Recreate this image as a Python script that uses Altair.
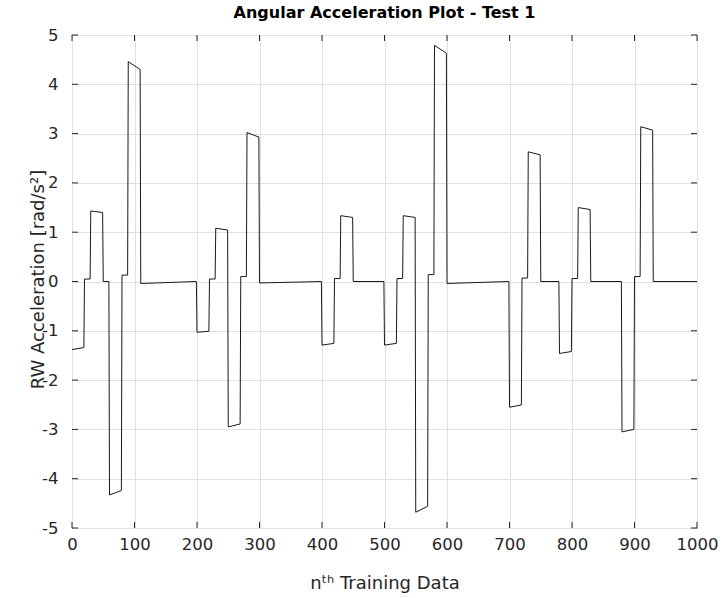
import altair as alt
import pandas as pd

# Breakpoints of the trace (sample index, rad/s^2)
sample_idx = [0, 19, 20, 29, 30, 49, 50, 59, 60, 79, 80, 89, 90, 109, 110, 199,
              200, 219, 220, 229, 230, 249, 250, 269, 270, 279, 280, 299, 300, 399,
              400, 419, 420, 429, 430, 449, 450, 499,
              500, 519, 520, 529, 530, 549, 550, 569, 570, 579, 580, 599, 600, 699,
              700, 719, 720, 729, 730, 749, 750, 779, 780, 799, 800, 809, 810, 829, 830, 879,
              880, 899, 900, 909, 910, 929, 930, 1000]
accel = [-1.38, -1.34, 0.05, 0.05, 1.43, 1.40, 0.0, 0.0, -4.33, -4.24, 0.13, 0.13, 4.46, 4.30, -0.04, 0.0,
         -1.03, -1.01, 0.05, 0.05, 1.08, 1.045, -2.95, -2.89, 0.10, 0.10, 3.02, 2.93, -0.03, 0.0,
         -1.29, -1.255, 0.06, 0.06, 1.335, 1.30, 0.0, 0.0,
         -1.29, -1.255, 0.06, 0.06, 1.335, 1.30, -4.68, -4.56, 0.14, 0.14, 4.79, 4.63, -0.04, 0.0,
         -2.55, -2.505, 0.07, 0.07, 2.63, 2.57, 0.0, 0.0, -1.46, -1.42, 0.06, 0.06, 1.50, 1.46, 0.0, 0.0,
         -3.05, -3.00, 0.10, 0.10, 3.14, 3.07, 0.0, 0.0]

x_ticks = [0, 100, 200, 300, 400, 500, 600, 700, 800, 900, 1000]
y_ticks = [-5, -4, -3, -2, -1, 0, 1, 2, 3, 4, 5]

W, H = 625, 493
FONT = "DejaVu Sans"
AX = "#262626"
TICK = 6

df = pd.DataFrame({"n": sample_idx, "a": accel})
xdf = pd.DataFrame({"n": x_ticks})
ydf = pd.DataFrame({"a": y_ticks})

xscale = alt.Scale(domain=[0, 1000], nice=False, zero=False)
yscale = alt.Scale(domain=[-5, 5], nice=False, zero=False)

x_axis = alt.Axis(values=x_ticks, title="nᵗʰ Training Data",
                  labelExpr="datum.value + ''", labelFlush=False,
                  titleX=W / 2, titleY=60, titleBaseline="alphabetic",
                  titleAnchor="middle", titleAlign="center")
y_axis = alt.Axis(values=y_ticks, title="RW Acceleration [rad/s²]",
                  labelExpr="datum.value + ''", labelFlush=False,
                  titleX=-29, titleY=244, titleAngle=-90,
                  titleBaseline="alphabetic", titleAlign="center")

X = alt.X("n:Q", scale=xscale, axis=x_axis)
Y = alt.Y("a:Q", scale=yscale, axis=y_axis)

line = alt.Chart(df).mark_line(color="#1a1a1a", strokeWidth=1).encode(x=X, y=Y)

tick_bottom = alt.Chart(xdf).mark_rule(color=AX, strokeWidth=1).encode(
    x=X, y=alt.value(H), y2=alt.value(H - TICK))
tick_top = alt.Chart(xdf).mark_rule(color=AX, strokeWidth=1).encode(
    x=X, y=alt.value(0), y2=alt.value(TICK))
tick_left = alt.Chart(ydf).mark_rule(color=AX, strokeWidth=1).encode(
    y=Y, x=alt.value(0), x2=alt.value(TICK))
tick_right = alt.Chart(ydf).mark_rule(color=AX, strokeWidth=1).encode(
    y=Y, x=alt.value(W), x2=alt.value(W - TICK))

chart = alt.layer(line, tick_bottom, tick_top, tick_left, tick_right).properties(
    width=W, height=H,
    title=alt.TitleParams("Angular Acceleration Plot - Test 1", font=FONT, fontSize=16,
                          fontWeight="bold", color="#000000", anchor="middle", offset=6),
    autosize=alt.AutoSizeParams(type="none"),
    padding={"left": 72, "top": 35, "right": 27, "bottom": 70},
    background="#ffffff",
).configure_view(
    stroke=AX, strokeWidth=1
).configure_axis(
    domain=False, ticks=False, grid=True, gridColor="#e0e0e0", gridWidth=1,
    labelFont=FONT, labelFontSize=16.5, labelColor=AX,
    titleFont=FONT, titleFontSize=18, titleColor=AX, titleFontWeight="normal",
).configure_axisX(labelPadding=8).configure_axisY(labelPadding=14)

chart.save("out.html", embed_options={"renderer": "svg", "actions": False})
